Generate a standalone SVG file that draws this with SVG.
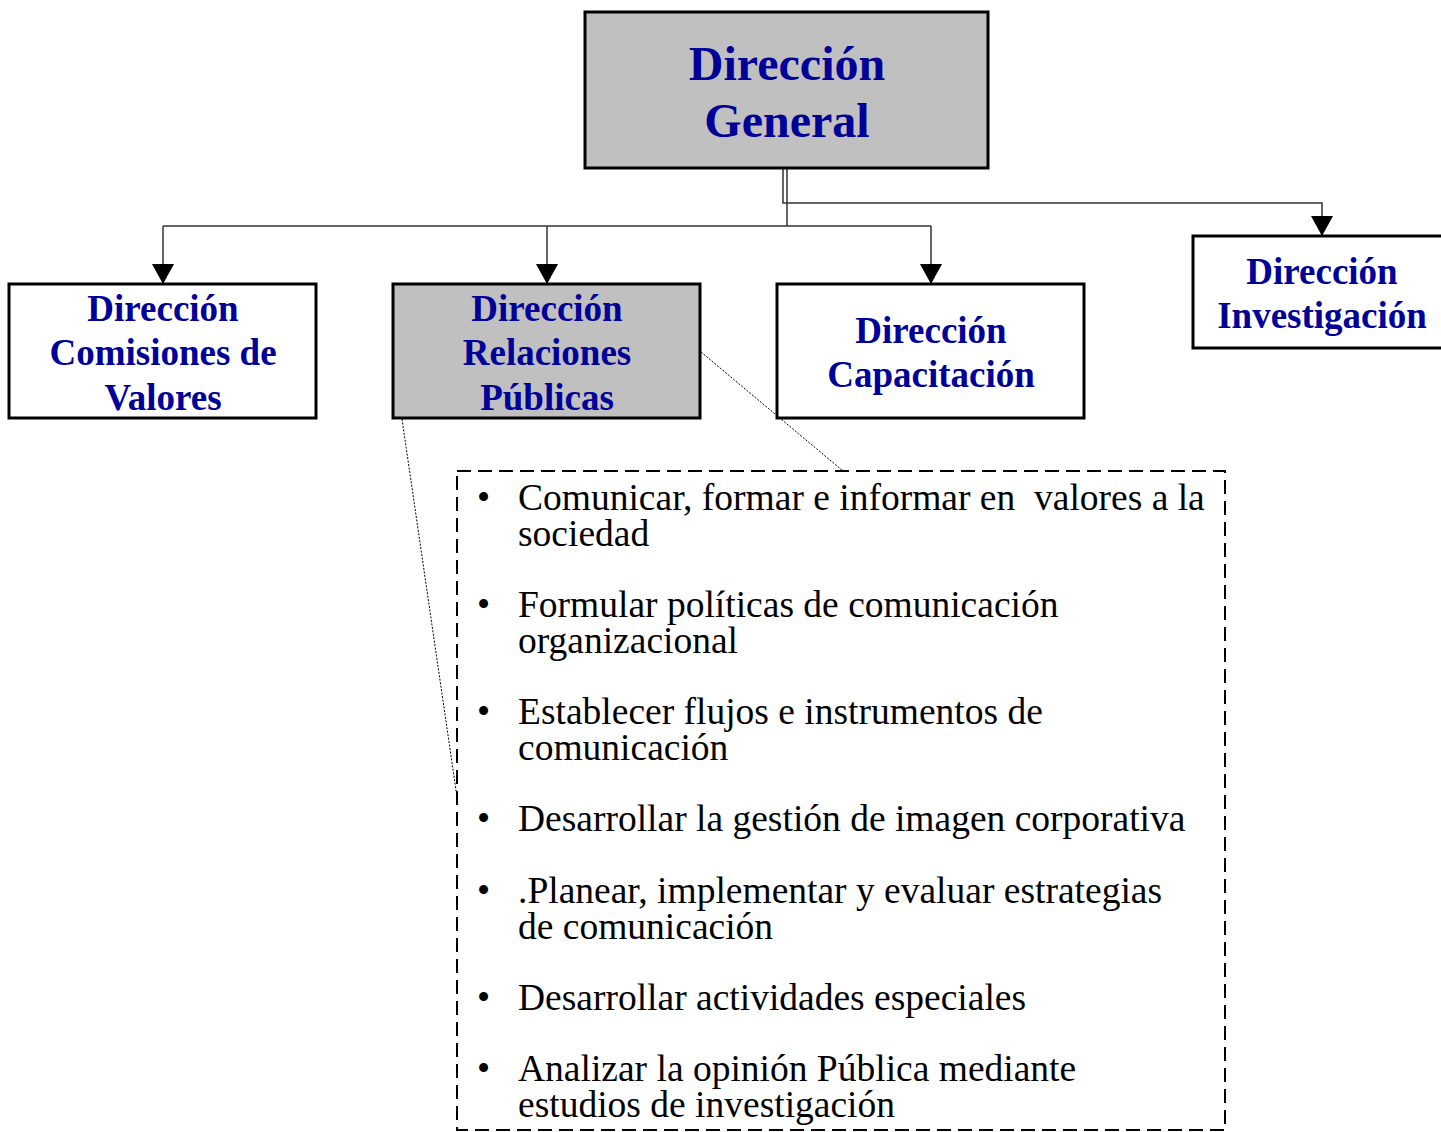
<svg xmlns="http://www.w3.org/2000/svg" width="1441" height="1132" viewBox="0 0 1441 1132">
<style>
.box{stroke:#000;stroke-width:3;}
.grey{fill:#c0c0c0;}
.white{fill:#fff;}
.h{font-family:"Liberation Serif","Times New Roman",serif;font-weight:bold;fill:#000099;text-anchor:middle;}
.t{font-family:"Liberation Serif","Times New Roman",serif;font-size:37.5px;fill:#000;white-space:pre;}
.c{fill:none;stroke:#333;stroke-width:1.5;}
.d{fill:none;stroke:#000;stroke-width:1;stroke-dasharray:2,1.5;}
</style>
<defs>
<marker id="arr" markerUnits="userSpaceOnUse" markerWidth="22" markerHeight="24" refX="20" refY="12" orient="auto" viewBox="0 0 22 24">
<path d="M0,1 L20,12 L0,23 Z" fill="#000"/>
</marker>
</defs>
<rect width="1441" height="1132" fill="#fff"/>
<g id="connectors">
<path class="c" d="M783,169 V203 H1322 V236" marker-end="url(#arr)"/>
<path class="c" d="M787,169 V226"/>
<path class="c" d="M163,226 H931"/>
<path class="c" d="M163,226 V284" marker-end="url(#arr)"/>
<path class="c" d="M547,226 V284" marker-end="url(#arr)"/>
<path class="c" d="M931,226 V284" marker-end="url(#arr)"/>
<path class="d" d="M402,419 L457,797"/>
<path class="d" d="M701,352 L843,471"/>
</g>
<g id="n-general">
<rect class="box grey" x="585" y="12" width="403" height="156"/>
<text class="h" font-size="48" x="787" y="80">Dirección</text>
<text class="h" font-size="48" x="787" y="137">General</text>
</g>
<g id="n-comisiones">
<rect class="box white" x="9" y="284" width="307" height="134"/>
<text class="h" font-size="37" x="163" y="321">Dirección</text>
<text class="h" font-size="37" x="163" y="365">Comisiones de</text>
<text class="h" font-size="37" x="163" y="410">Valores</text>
</g>
<g id="n-relaciones">
<rect class="box grey" x="393" y="284" width="307" height="134"/>
<text class="h" font-size="37" x="547" y="321">Dirección</text>
<text class="h" font-size="37" x="547" y="365">Relaciones</text>
<text class="h" font-size="37" x="547" y="410">Públicas</text>
</g>
<g id="n-capacitacion">
<rect class="box white" x="777" y="284" width="307" height="134"/>
<text class="h" font-size="37" x="931" y="343">Dirección</text>
<text class="h" font-size="37" x="931" y="387">Capacitación</text>
</g>
<g id="n-investigacion">
<rect class="box white" x="1193" y="236" width="260" height="112"/>
<text class="h" font-size="37" x="1322" y="284">Dirección</text>
<text class="h" font-size="37" x="1322" y="328">Investigación</text>
</g>
<g id="n-funciones">
<rect x="457" y="471" width="768" height="659" fill="none" stroke="#000" stroke-width="2" stroke-dasharray="14,7"/>
<g class="t">
<text x="477" y="510">•</text><text x="518" y="510" xml:space="preserve">Comunicar, formar e informar en  valores a la</text>
<text x="518" y="546">sociedad</text>
<text x="477" y="617">•</text><text x="518" y="617">Formular políticas de comunicación</text>
<text x="518" y="653">organizacional</text>
<text x="477" y="724">•</text><text x="518" y="724">Establecer flujos e instrumentos de</text>
<text x="518" y="760">comunicación</text>
<text x="477" y="831">•</text><text x="518" y="831">Desarrollar la gestión de imagen corporativa</text>
<text x="477" y="903">•</text><text x="518" y="903">.Planear, implementar y evaluar estrategias</text>
<text x="518" y="939">de comunicación</text>
<text x="477" y="1010">•</text><text x="518" y="1010">Desarrollar actividades especiales</text>
<text x="477" y="1081">•</text><text x="518" y="1081">Analizar la opinión Pública mediante</text>
<text x="518" y="1117">estudios de investigación</text>
</g>
</g>
</svg>
